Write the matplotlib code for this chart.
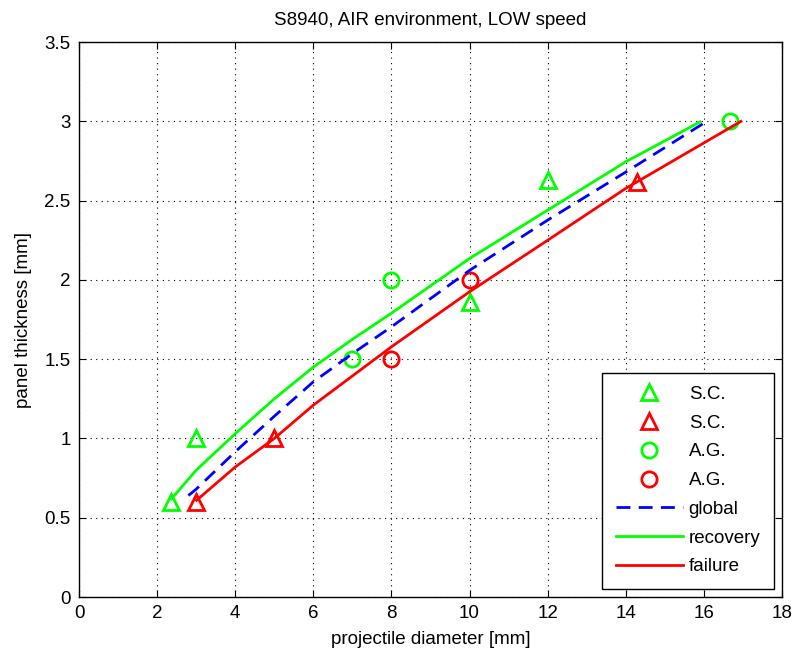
import numpy as np
import matplotlib.pyplot as plt

## DATA ##
# measured points
sc_rec_x = [2.35, 3, 10, 12]
sc_rec_y = [0.6, 1.0, 1.86, 2.63]
sc_fail_x = [3, 5, 14.3]
sc_fail_y = [0.6, 1.0, 2.62]
ag_rec_x = [7, 8, 16.67]
ag_rec_y = [1.5, 2.0, 3.0]
ag_fail_x = [8, 10]
ag_fail_y = [1.5, 2.0]

# fitted curves
glob_x = [2.8, 3, 4, 5, 6, 7, 8, 10, 12, 14, 16.14]
glob_y = [0.64, 0.68, 0.916, 1.14, 1.357, 1.535, 1.704, 2.06, 2.377, 2.68, 3.01]
rec_x = [2.37, 3, 4, 5, 6, 7, 8, 10, 12, 14, 15.9]
rec_y = [0.62, 0.80, 1.03, 1.25, 1.45, 1.625, 1.79, 2.135, 2.44, 2.745, 2.996]
fail_x = [3.01, 4, 5, 6, 8, 10, 12, 14, 16.95]
fail_y = [0.61, 0.82, 1.0, 1.21, 1.578, 1.925, 2.25, 2.577, 3.0]

plt.rcParams['font.family'] = ['Liberation Sans', 'DejaVu Sans']
fig = plt.figure(figsize=(7.95, 6.57), dpi=100)
ax = fig.add_axes([0.0994, 0.0913, 0.8842, 0.8447])

mk = dict(linestyle='none', markersize=11, markeredgewidth=2, markerfacecolor='none')
ax.plot(sc_rec_x, sc_rec_y, '^', color=(0, 1, 0), label='S.C.', **mk)
ax.plot(sc_fail_x, sc_fail_y, '^', color=(1, 0, 0), label='S.C.', **mk)
ax.plot(ag_rec_x, ag_rec_y, 'o', color=(0, 1, 0), label='A.G.', **mk)
ax.plot(ag_fail_x, ag_fail_y, 'o', color=(1, 0, 0), label='A.G.', **mk)
ax.plot(glob_x, glob_y, '--', color=(0, 0, 1), lw=2, dashes=(5, 3), label='global')
ax.plot(rec_x, rec_y, '-', color=(0, 1, 0), lw=2, label='recovery')
ax.plot(fail_x, fail_y, '-', color=(1, 0, 0), lw=2, label='failure')

ax.set_xlim(0, 18)
ax.set_ylim(0, 3.5)
ax.set_xticks(np.arange(0, 19, 2))
ax.set_yticks(np.arange(0, 3.6, 0.5))
ax.set_yticklabels(['0', '0.5', '1', '1.5', '2', '2.5', '3', '3.5'])
ax.grid(True, color='black', linestyle=(0, (1, 4)), linewidth=0.8)
ax.tick_params(direction='in', top=True, right=True, labelsize=13.5, length=5, pad=6)
for s in ax.spines.values():
    s.set_linewidth(1)

ax.set_title('S8940, AIR environment, LOW speed', fontsize=13.5, pad=12)
ax.set_xlabel('projectile diameter [mm]', fontsize=13.5, labelpad=6)
ax.set_ylabel('panel thickness [mm]', fontsize=13.5, labelpad=9)

leg = ax.legend(loc='lower right', fontsize=13.5, fancybox=False, framealpha=1,
                edgecolor='black', borderaxespad=0.45, handlelength=3.6,
                handletextpad=0.3, labelspacing=0.62, borderpad=0.7)
leg.get_frame().set_linewidth(1)

fig.savefig('out.png', dpi=100)
